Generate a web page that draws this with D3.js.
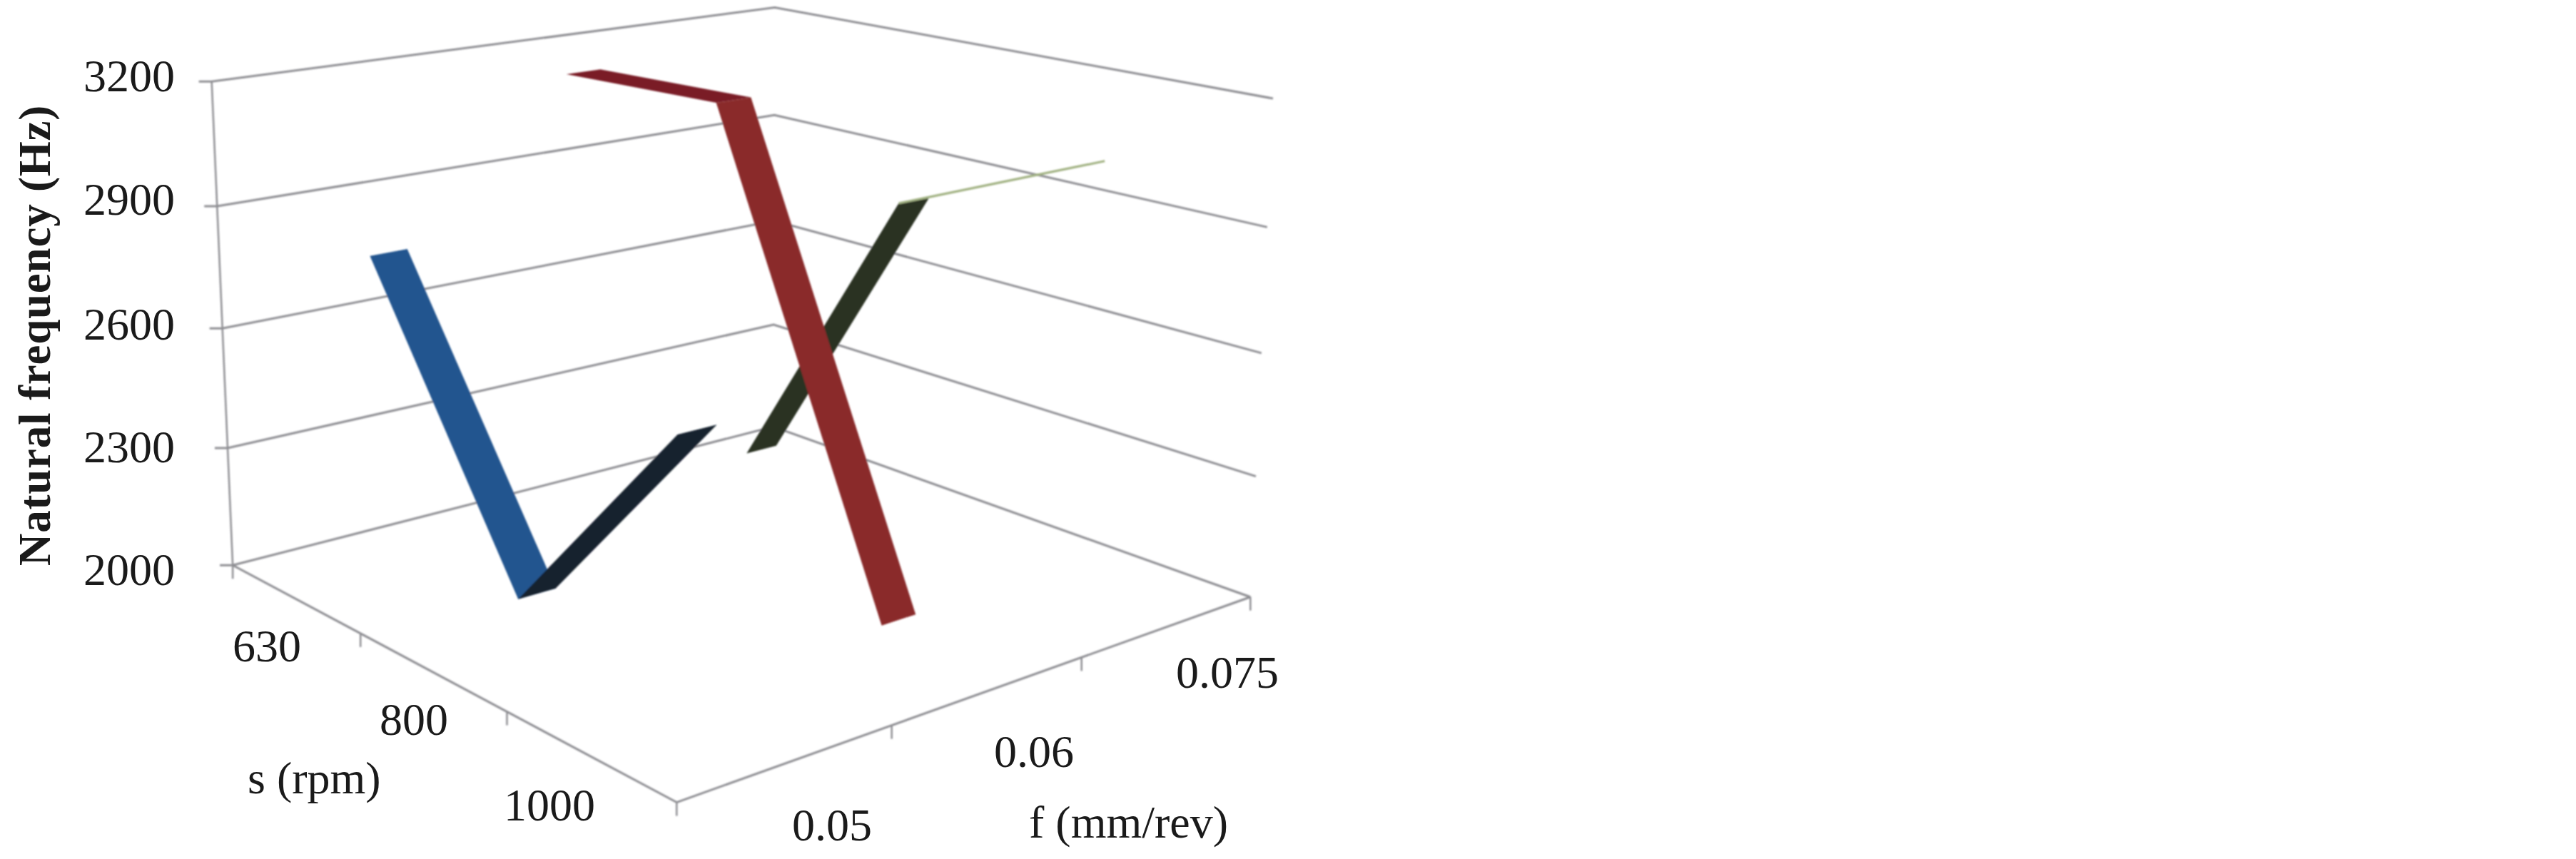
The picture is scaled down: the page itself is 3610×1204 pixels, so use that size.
<!DOCTYPE html>
<html><head><meta charset="utf-8">
<script src="https://cdnjs.cloudflare.com/ajax/libs/d3/7.8.5/d3.min.js"></script>
<style>html,body{margin:0;background:#fff}svg{display:block}text{font-family:"Liberation Serif",serif;fill:#1a1a1a}</style>
</head><body><svg id="c" width="3610" height="1204"></svg>
<script>
const speeds=["630","800","1000"];
const feeds=["0.05","0.06","0.075"];
const freqTicks=[2000,2300,2600,2900,3200];
const seriesF005=[2796,2110,2640];
const seriesF006=[3162,3176,2075];
const seriesF0075=[2065,2854,3040];
const segColors=[["#24558f","#16202f"],["#7a1f26","#8a2a2c"],["#2a3324","#a3b384"]];
const segOutline=[[0,0],[0,0],[0,3]];

// camera calibration from the corners of the plot box
const cal=[];
const leftP=[[325,793],[319,628],[312.5,461],[305,288],[296.5,114]];
const backP=[[1085,597],[1084,457],[1085,307],[1084,162],[1085,11]];
const rightP=[[1750,836],[1761,669],[1769,495],[1777,318],[1783,138]];
for(let i=0;i<5;i++){const t=i/4;
 cal.push([0,0,t,...leftP[i]]);cal.push([0,1,t,...backP[i]]);cal.push([1,1,t,...rightP[i]]);}
cal.push([1,0,0,948,1124]);
function fit(){const A=[],b=[];
 cal.forEach(([u,v,t,x,y])=>{
  A.push([u,v,t,1,0,0,0,0,-x*u,-x*v,-x*t]);b.push(x);
  A.push([0,0,0,0,u,v,t,1,-y*u,-y*v,-y*t]);b.push(y);});
 const n=11,M=d3.range(n).map(i=>d3.range(n+1).map(j=>j<n?d3.sum(A,r=>r[i]*r[j]):d3.sum(A,(r,k)=>r[i]*b[k])));
 for(let i=0;i<n;i++){let p=i;for(let r=i+1;r<n;r++)if(Math.abs(M[r][i])>Math.abs(M[p][i]))p=r;[M[i],M[p]]=[M[p],M[i]];
  for(let r=0;r<n;r++)if(r!==i){const f=M[r][i]/M[i][i];for(let c=i;c<=n;c++)M[r][c]-=f*M[i][c];}}
 return M.map((r,i)=>r[n]/r[i]);}
const P=fit();
const proj=(u,v,t)=>{const w=P[8]*u+P[9]*v+P[10]*t+1;return [(P[0]*u+P[1]*v+P[2]*t+P[3])/w,(P[4]*u+P[5]*v+P[6]*t+P[7])/w];};

const uScale=d3.scalePoint().domain(speeds).range([0,1]).padding(0.5);
const vScale=d3.scalePoint().domain(feeds).range([0,1]).padding(0.5);
const tScale=d3.scaleLinear().domain([2000,3200]).range([0,1]);
const svg=d3.select("#c");
const defs=svg.append("defs");defs.append("filter").attr("id","soft").append("feGaussianBlur").attr("stdDeviation",0.8);
const g=svg.append("g").attr("filter","url(#soft)");
const grid="#8e8e93";
const seg=(a,b,w=3)=>g.append("line").attr("x1",a[0]).attr("y1",a[1]).attr("x2",b[0]).attr("y2",b[1]).attr("stroke",grid).attr("stroke-width",w);
freqTicks.forEach(f=>{const t=tScale(f),l=proj(0,0,t),b=proj(0,1,t),r=proj(1,1,t);
 g.append("path").attr("d",d3.line()([r,b,l,[l[0]-18,l[1]]])).attr("fill","none").attr("stroke",grid).attr("stroke-width",3);});
seg(proj(0,0,1),proj(0,0,0),2.5);
seg(proj(0,0,0),proj(1,0,0));seg(proj(1,0,0),proj(1,1,0));
[0,1/3,2/3,1].forEach(u=>{const p=proj(u,0,0);seg(p,[p[0],p[1]+19],2.5);});
[1/3,2/3,1].forEach(v=>{const p=proj(1,v,0);seg(p,[p[0],p[1]+19],2.5);});

const series=[["0.075",seriesF0075,2],["0.06",seriesF006,1],["0.05",seriesF005,0]];
const hw=0.03;
series.forEach(([f,vals,ci])=>{const v=vScale(f);
 d3.pairs(vals.map((d,i)=>[uScale(speeds[i]),tScale(d)])).forEach(([a,b],i)=>{
  g.append("path").attr("d",d3.line()([proj(a[0],v-hw,a[1]),proj(a[0],v+hw,a[1]),proj(b[0],v+hw,b[1]),proj(b[0],v-hw,b[1])])+"Z")
   .attr("fill",segColors[ci][i]).attr("stroke",segOutline[ci][i]?segColors[ci][i]:"none").attr("stroke-width",segOutline[ci][i]);});});

const T=(x,y,s,a="middle")=>svg.append("text").attr("x",x).attr("y",y).attr("font-size",64).attr("text-anchor",a).text(s);
const yb=[820,648,476,301,128];
const sLabelAt=[[374,927],[580,1030],[770,1150]];
const fLabelAt=[[1166,1178],[1449,1075],[1720,964]];
freqTicks.forEach((f,i)=>T(245,yb[i],f,"end"));
speeds.forEach((s,i)=>T(...sLabelAt[i],s));
feeds.forEach((s,i)=>T(...fLabelAt[i],s));
T(347,1112,"s (rpm)","start");
T(1442,1174,"f (mm/rev)","start");
svg.append("text").attr("transform","translate(70,470) rotate(-90)").attr("font-size",63).attr("font-weight","bold").attr("text-anchor","middle").attr("letter-spacing",0.8).text("Natural frequency (Hz)");
</script></body></html>
